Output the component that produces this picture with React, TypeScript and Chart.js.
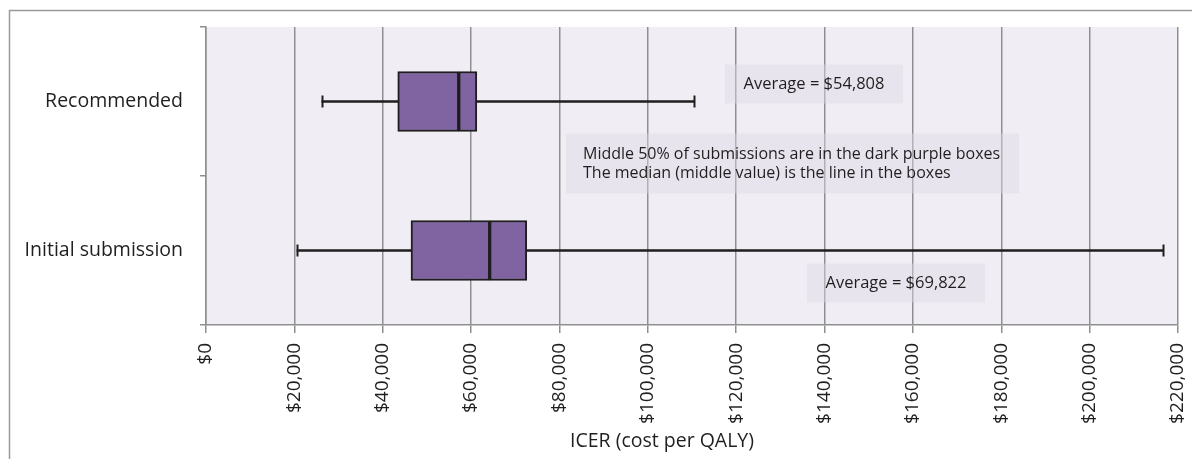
import React, { useEffect, useRef } from "react";
import { Chart, registerables } from "chart.js";

Chart.register(...registerables);

const categories = ["Recommended", "Initial submission"];
const whiskerMin = [26200, 20600];
const q1 = [43400, 46400];
const median = [57200, 64200];
const q3 = [61300, 72600];
const whiskerMax = [110400, 216700];
const averages = [54808, 69822];
const noteLines = [
  "Middle 50% of submissions are in the dark purple boxes",
  "The median (middle value) is the line in the boxes",
];
const xTickValues = [0, 20000, 40000, 60000, 80000, 100000, 120000, 140000, 160000, 180000, 200000, 220000];
const xTitle = "ICER (cost per QALY)";

const FONT = "'Open Sans', sans-serif";
const GRID = "#8f8f8f";
const TEXT = "#1f1f1f";

const fmt = (v: number) => "$" + v.toLocaleString("en-US");

const extrasPlugin = {
  id: "extras",
  beforeDraw(chart: any) {
    const { ctx, chartArea: a } = chart;
    ctx.save();
    ctx.fillStyle = "#ffffff";
    ctx.fillRect(0, 0, chart.width, chart.height);
    ctx.fillStyle = "#f0eef4";
    ctx.fillRect(a.left, a.top, a.right - a.left, a.bottom - a.top);
    ctx.restore();
  },
  afterDatasetsDraw(chart: any) {
    const { ctx, chartArea: a } = chart;
    const xs = chart.scales.x;
    const ys = chart.scales.y;
    ctx.save();
    // whisker caps
    ctx.strokeStyle = "#1e1e1e";
    ctx.lineWidth = 2;
    categories.forEach((_, i) => {
      const yc = ys.getPixelForValue(i);
      [whiskerMin[i], whiskerMax[i]].forEach((v) => {
        const x = Math.round(xs.getPixelForValue(v)) + 0.5;
        ctx.beginPath();
        ctx.moveTo(x, yc - 6);
        ctx.lineTo(x, yc + 6);
        ctx.stroke();
      });
    });
    // annotation boxes
    const boxFill = "rgba(221,215,230,0.45)";
    const yc0 = ys.getPixelForValue(0);
    const yc1 = ys.getPixelForValue(1);
    const drawAvg = (cx: number, cy: number, text: string) => {
      ctx.fillStyle = boxFill;
      ctx.fillRect(cx - 89, cy - 20, 178, 39);
      ctx.fillStyle = TEXT;
      ctx.font = `16.5px ${FONT}`;
      ctx.textAlign = "center";
      ctx.textBaseline = "middle";
      ctx.fillText(text, cx, cy);
    };
    drawAvg(a.left + 608, yc0 - 17, "Average = " + fmt(averages[0]));
    drawAvg(a.left + 690, yc1 + 33, "Average = " + fmt(averages[1]));
    // note box
    ctx.fillStyle = boxFill;
    ctx.fillRect(a.left + 360, yc0 + 32, 453, 60);
    ctx.fillStyle = TEXT;
    ctx.font = `16px ${FONT}`;
    ctx.textAlign = "left";
    ctx.textBaseline = "middle";
    noteLines.forEach((t, k) => {
      ctx.fillText(t, a.left + 377, yc0 + 53 + k * 19);
    });
    ctx.restore();
  },
  afterDraw(chart: any) {
    const { ctx, chartArea: a } = chart;
    ctx.save();
    ctx.font = `19.5px ${FONT}`;
    ctx.fillStyle = TEXT;
    ctx.textAlign = "center";
    ctx.textBaseline = "middle";
    ctx.fillText(xTitle, a.left + 456, 441);
    ctx.strokeStyle = "#9a9a9a";
    ctx.lineWidth = 1.5;
    ctx.strokeRect(9.5, 10.5, chart.width + 20, chart.height + 20);
    ctx.restore();
  },
};

export default function App() {
  const ref = useRef<HTMLCanvasElement | null>(null);
  useEffect(() => {
    document.body.style.margin = "0";
    if (!ref.current) return;
    const chart = new Chart(ref.current, {
      type: "bar",
      data: {
        labels: categories,
        datasets: [
          {
            label: "Q1-Median",
            data: categories.map((_, i) => [q1[i], median[i]]) as any,
            backgroundColor: "#8064a2",
            borderColor: "#1e1e1e",
            borderWidth: 2,
            borderSkipped: false,
            barThickness: 60,
            grouped: false,
            order: 1,
          },
          {
            label: "Median-Q3",
            data: categories.map((_, i) => [median[i], q3[i]]) as any,
            backgroundColor: "#8064a2",
            borderColor: "#1e1e1e",
            borderWidth: 2,
            borderSkipped: false,
            barThickness: 60,
            grouped: false,
            order: 1,
          },
          {
            label: "Whisker",
            data: categories.map((_, i) => [whiskerMin[i], whiskerMax[i]]) as any,
            backgroundColor: "#1e1e1e",
            borderWidth: 0,
            barThickness: 2,
            grouped: false,
            order: 2,
          },
        ],
      },
      options: {
        indexAxis: "y",
        animation: false,
        responsive: false,
        maintainAspectRatio: false,
        layout: { padding: { left: 0, top: 27, right: 14, bottom: 0 } },
        plugins: { legend: { display: false }, tooltip: { enabled: false } },
        scales: {
          x: {
            type: "linear",
            min: 0,
            max: 220000,
            afterBuildTicks: (s: any) => {
              s.ticks = xTickValues.map((v) => ({ value: v }));
            },
            afterFit: (s: any) => {
              s.height = 134;
              s.paddingLeft = 0;
              s.paddingRight = 0;
            },
            ticks: {
              minRotation: 90,
              maxRotation: 90,
              padding: 10,
              color: TEXT,
              font: { family: FONT, size: 19 },
              callback: (v: any) => fmt(Number(v)),
            },
            grid: { color: GRID, lineWidth: 1.5, tickLength: 8 },
            border: { color: GRID, width: 1.5 },
          },
          y: {
            type: "category",
            offset: true,
            afterFit: (s: any) => {
              s.width = 206;
              s.paddingTop = 0;
              s.paddingBottom = 0;
            },
            ticks: {
              padding: 17,
              color: TEXT,
              font: { family: FONT, size: 19.5 },
            },
            grid: { display: true, drawOnChartArea: false, offset: true, color: GRID, lineWidth: 1.5, tickLength: 6 },
            border: { color: GRID, width: 1.5 },
          },
        },
      },
      plugins: [extrasPlugin],
    } as any);
    return () => chart.destroy();
  }, []);
  return (
    <div style={{ width: 1192, height: 459 }}>
      <canvas ref={ref} width={1192} height={459} style={{ display: "block" }} />
    </div>
  );
}
